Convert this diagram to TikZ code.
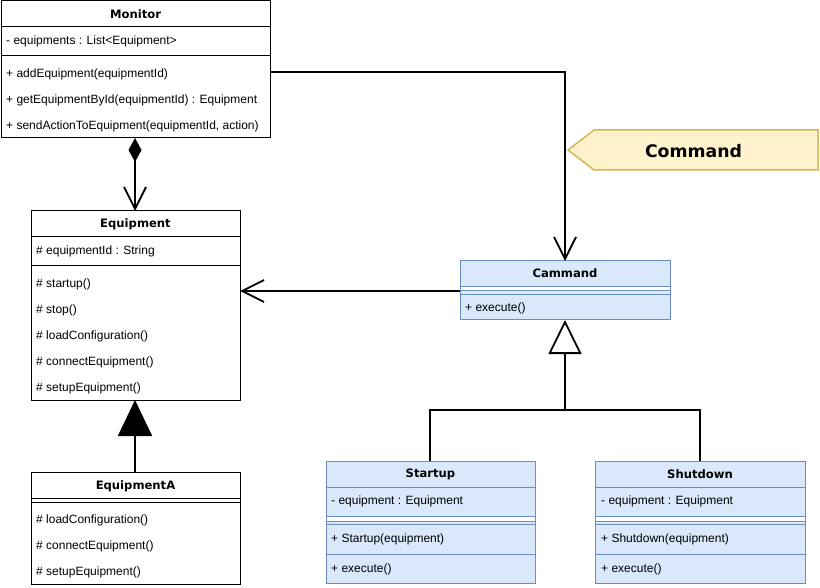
\documentclass[tikz,border=0pt]{standalone}
\usepackage{fontspec}
\setmainfont{Liberation Sans}
\newfontfamily\titlefam{DejaVu Sans}
\usetikzlibrary{arrows.meta,calc}
\definecolor{bluefill}{HTML}{DAE8FC}
\definecolor{bluedraw}{HTML}{6C8EBF}
\definecolor{notefill}{HTML}{FFF2CC}
\definecolor{notedraw}{HTML}{D6B656}
\newcommand{\bodyfnt}{\fontsize{12}{14}\selectfont}
\newcommand{\titlefnt}{\titlefam\bfseries\fontsize{11.6}{14}\selectfont}
\tikzset{
  umlbox/.style={draw=black, line width=1pt, rectangle, inner sep=0pt, outer sep=0pt, anchor=north west},
  bluebox/.style={umlbox, draw=bluedraw, fill=bluefill},
  rowline/.style={line width=1pt},
  bluerow/.style={line width=1pt, draw=bluedraw},
  txt/.style={anchor=base west, inner sep=0pt, font=\bodyfnt},
  ttl/.style={inner sep=0pt, font=\titlefnt},
  conn/.style={line width=1.8pt, draw=black},
  openhead/.style={-{Straight Barb[length=22pt, width=22pt]}},
}
\begin{document}
\begin{tikzpicture}[x=1pt, y=-1pt]
\fill[white] (0,0) rectangle (820,588);
\useasboundingbox (0,0) rectangle (820,588);

% Monitor
\node[umlbox, minimum width=269pt, minimum height=137pt] (monitor) at (1,1) {};
\draw[rowline] (1,27) -- (270,27);
\draw[rowline] (1,56) -- (270,56);
\node[ttl] (monT) at (135.5,14) {Monitor};
\node[txt] (monA) at (6,45) {- equipments : List<Equipment>};
\node[txt] (monM1) at (6,77.5) {+ addEquipment(equipmentId)};
\node[txt] (monM2) at (6,103.5) {+ getEquipmentById(equipmentId) : Equipment};
\node[txt] (monM3) at (6,130) {+ sendActionToEquipment(equipmentId, action)};

% Equipment
\node[umlbox, minimum width=209pt, minimum height=189pt] (equipment) at (31,211) {};
\draw[rowline] (31,237) -- (240,237);
\draw[rowline] (31,266) -- (240,266);
\node[ttl] (eqT) at (135.5,224) {Equipment};
\node[txt] (eqA) at (36,254.5) {\# equipmentId : String};
\node[txt] (eqM1) at (36,287.5) {\# startup()};
\node[txt] (eqM2) at (36,313.5) {\# stop()};
\node[txt] (eqM3) at (36,339.5) {\# loadConfiguration()};
\node[txt] (eqM4) at (36,365.5) {\# connectEquipment()};
\node[txt] (eqM5) at (36,391.5) {\# setupEquipment()};

% EquipmentA
\node[umlbox, minimum width=209pt, minimum height=112pt] (equipmentA) at (31,472) {};
\draw[rowline] (31,498) -- (240,498);
\draw[rowline] (31,502) -- (240,502);
\node[ttl] (eqaT) at (135.5,486) {EquipmentA};
\node[txt] (eqaM1) at (36,523.5) {\# loadConfiguration()};
\node[txt] (eqaM2) at (36,549.5) {\# connectEquipment()};
\node[txt] (eqaM3) at (36,575.5) {\# setupEquipment()};

% Cammand
\node[bluebox, minimum width=210pt, minimum height=59pt] (cammand) at (460,261) {};
\fill[white] (460.5,287) rectangle (669.5,291);
\draw[bluerow] (460,287) -- (670,287);
\draw[bluerow] (460,291) -- (670,291);
\draw[bluerow] (460,295) -- (670,295);
\node[ttl] (camT) at (565,273.5) {Cammand};
\node[txt] (camM1) at (465,311.5) {+ execute()};

% Startup
\node[bluebox, minimum width=209pt, minimum height=122pt] (startup) at (326,461) {};
\fill[white] (326.5,516) rectangle (534.5,521);
\draw[bluerow] (326,487) -- (535,487);
\draw[bluerow] (326,516) -- (535,516);
\draw[bluerow] (326,521) -- (535,521);
\draw[bluerow] (326,524) -- (535,524);
\draw[bluerow] (326,554) -- (535,554);
\node[ttl] (stT) at (430.5,474) {Startup};
\node[txt] (stA) at (331,504) {- equipment : Equipment};
\node[txt] (stM1) at (331,542) {+ Startup(equipment)};
\node[txt] (stM2) at (331,572) {+ execute()};

% Shutdown
\node[bluebox, minimum width=210pt, minimum height=122pt] (shutdown) at (595,461) {};
\fill[white] (595.5,516) rectangle (804.5,521);
\draw[bluerow] (595,487) -- (805,487);
\draw[bluerow] (595,516) -- (805,516);
\draw[bluerow] (595,521) -- (805,521);
\draw[bluerow] (595,524) -- (805,524);
\draw[bluerow] (595,554) -- (805,554);
\node[ttl] (sdT) at (700,474) {Shutdown};
\node[txt] (sdA) at (601,504) {- equipment : Equipment};
\node[txt] (sdM1) at (601,542) {+ Shutdown(equipment)};
\node[txt] (sdM2) at (601,572) {+ execute()};

% Command callout
\draw[draw=notedraw, fill=notefill, line width=1.5pt, line join=miter]
  (568,150) -- (594,130) -- (818,130) -- (818,170) -- (594,170) -- cycle;
\node[inner sep=0pt, font=\titlefam\bfseries\fontsize{17.3}{20}\selectfont] (cmdlabel) at (693.5,151) {Command};

% Connectors (nudged onto whole pixels so the strokes stay crisp)
\draw[conn, openhead] ([yshift=-2.5pt]monitor.east) -| (cammand.north);
\draw[conn, {Diamond[length=24pt, width=13pt]}-{Straight Barb[length=22pt, width=22pt]}]
  ([xshift=-0.5pt]monitor.south) -- ([xshift=-0.5pt]equipment.north);
\draw[conn, openhead] ([yshift=-0.5pt]cammand.west) -- ([yshift=-0.5pt]cammand.west -| equipment.east);
\draw[conn, -{Triangle[length=36pt, width=34pt]}] ([xshift=-0.5pt]equipmentA.north) -- ([xshift=-0.5pt]equipment.south);
\coordinate (join) at ($(cammand.south)+(0,90)$);
\draw[conn, -{Triangle[open, length=34pt, width=33pt]}] ([xshift=-0.5pt]startup.north) |- (join) -- (cammand.south);
\draw[conn] (shutdown.north) |- (join);
\end{tikzpicture}
\end{document}
